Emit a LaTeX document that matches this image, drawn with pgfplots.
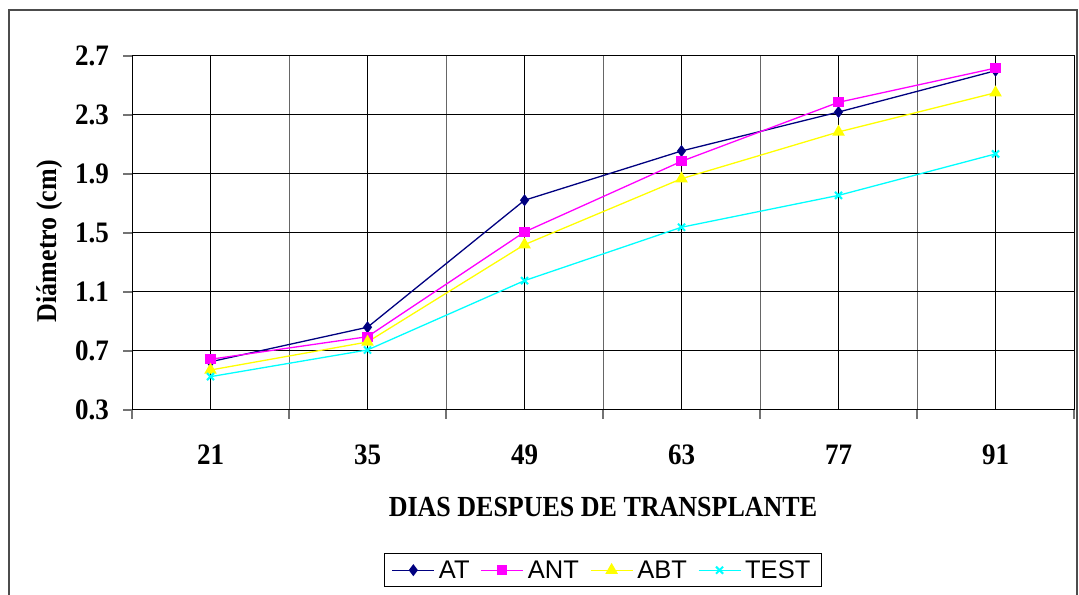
\documentclass[border=0pt]{standalone}
\usepackage{fontspec}
\setmainfont{Liberation Serif}
\newfontfamily\legfont{Liberation Sans}
\usepackage{graphicx}
\usepackage{pgfplots}
\pgfplotsset{compat=1.18}
\definecolor{atcol}{RGB}{0,0,128}
\definecolor{antcol}{RGB}{255,0,255}
\definecolor{abtcol}{RGB}{255,255,0}
\definecolor{testcol}{RGB}{0,255,255}
\begin{document}
\begin{tikzpicture}[x=1bp,y=1bp]
\path[use as bounding box] (0,0) rectangle (1079,595);
\draw[line width=1.2bp, black!70] (9,-10) -- (9,585) -- (1077,585) -- (1077,-10);
\begin{axis}[
  at={(132bp,185bp)}, anchor=south west,
  scale only axis, width=942bp, height=354bp,
  xmin=-0.5, xmax=5.5, ymin=0.3, ymax=2.7,
  xtick={0,1,2,3,4,5},
  xticklabels={\scalebox{1}[1.1]{21},\scalebox{1}[1.1]{35},\scalebox{1}[1.1]{49},\scalebox{1}[1.1]{63},\scalebox{1}[1.1]{77},\scalebox{1}[1.1]{91}},
  minor xtick={-0.5,0.5,1.5,2.5,3.5,4.5,5.5},
  ytick={0.3,0.7,1.1,1.5,1.9,2.3,2.7},
  xtick pos=bottom, ytick pos=left,
  tick align=outside,
  major tick length=9bp, minor tick length=9bp,
  major x tick style={draw=none},
  minor x tick style={black!55, line width=1.2bp},
  ytick style={black!55, line width=1.2bp},
  xmajorgrids, xminorgrids, ymajorgrids,
  major grid style={black, line width=1bp},
  minor grid style={black!60, line width=1bp},
  axis line style={black, line width=1bp},
  /pgf/number format/assume math mode=true,
  yticklabel={\scalebox{1}[1.1]{\pgfmathprintnumber[fixed,fixed zerofill,precision=1]{\tick}}},
  tick label style={font=\bfseries\fontsize{27bp}{27bp}\selectfont, inner sep=0pt},
  yticklabel style={xshift=-14bp},
  xticklabel style={yshift=-26bp},
  xlabel={\scalebox{1}[1.12]{DIAS DESPUES DE TRANSPLANTE}},
  ylabel={\scalebox{1}[1.1]{Diámetro (cm)}},
  label style={font=\bfseries\fontsize{26bp}{26bp}\selectfont},
  xlabel style={at={(axis description cs:0.5,-0.274)}, anchor=center},
  ylabel style={at={(axis description cs:-0.087,0.477)}, anchor=center},
  legend columns=4,
  legend style={at={(0.5,-0.404)}, anchor=north, draw=black, line width=1bp,
    font=\legfont\fontsize{25.5bp}{25.5bp}\selectfont,
    inner xsep=7bp, inner ysep=4bp,
    nodes={inner xsep=4bp, inner ysep=3bp},
    /tikz/every even column/.append style={column sep=7bp}},
  legend image code/.code={\draw[mark repeat=2,mark phase=2] plot coordinates {(0bp,0bp) (21bp,0bp) (42bp,0bp)};},
]
\addplot[atcol, line width=1.3bp, mark=diamond*, mark size=5bp, mark options={solid}] coordinates {
(0,0.627) (1,0.861) (2,1.722) (3,2.056) (4,2.320) (5,2.600)};
\addlegendentry{AT}
\addplot[antcol, line width=1.3bp, mark=square*, mark size=4.5bp] coordinates {
(0,0.644) (1,0.797) (2,1.507) (3,1.986) (4,2.386) (5,2.618)};
\addlegendentry{ANT}
\addplot[abtcol, line width=1.3bp, mark=triangle*, mark size=6bp] coordinates {
(0,0.571) (1,0.761) (2,1.421) (3,1.868) (4,2.185) (5,2.451)};
\addlegendentry{ABT}
\addplot[testcol, line width=1.3bp, mark=x, mark size=5bp, mark options={line width=2bp}] coordinates {
(0,0.526) (1,0.707) (2,1.177) (3,1.539) (4,1.755) (5,2.036)};
\addlegendentry{TEST}
\draw[black, line width=2.5bp] (rel axis cs:0,1) -- (rel axis cs:0,0) -- (rel axis cs:1,0);
\end{axis}
\end{tikzpicture}
\end{document}
